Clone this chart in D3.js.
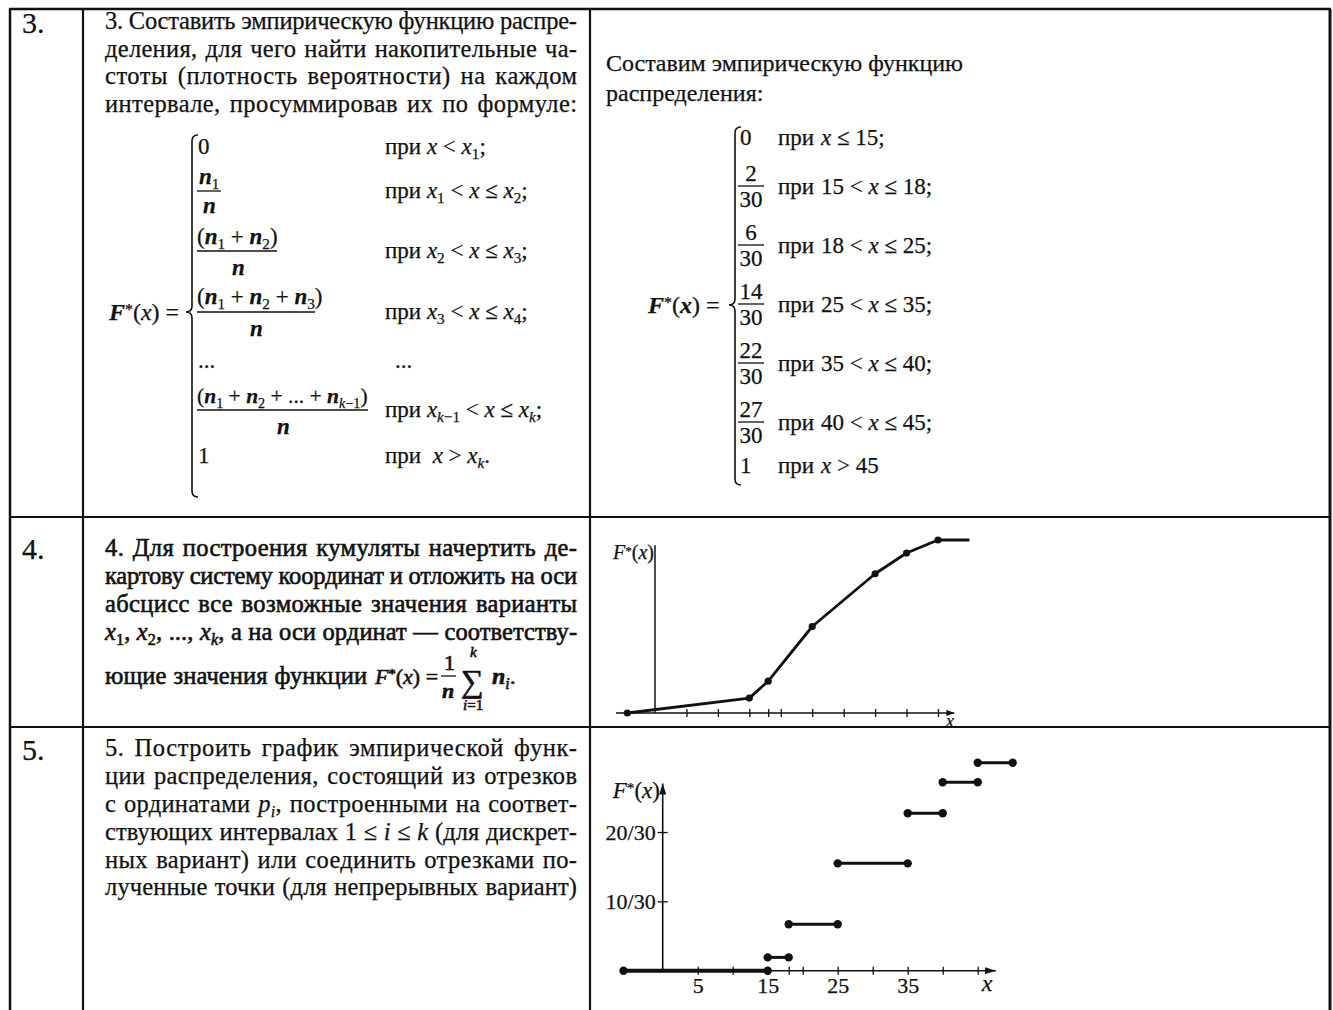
<!DOCTYPE html>
<html>
<head>
<meta charset="utf-8">
<script src="https://cdn.jsdelivr.net/npm/d3@7"></script>
<style>
  body { margin: 0; background: #fff; }
  svg text { font-family: "Liberation Serif", "Times New Roman", serif; fill: #111; white-space: pre; stroke: #111; stroke-width: 0.25; }
  .heavy text, text.heavy { stroke-width: 0.6; }
</style>
</head>
<body>
<script>
// ---- data ----
// cumulative polygon (row 4)
var cumX = [-4.4, 15, 18, 25, 35, 40, 45];
var cumF = [0, 0.086, 0.184, 0.5, 0.805, 0.925, 1];
var cumTailX = 50;
var cumTicks = [5, 10, 15, 18, 20, 25, 30, 35, 40, 45];

// empirical distribution function, steps (row 5)
var stepFrom = [-5.6, 15, 18, 25, 35, 40, 45];
var stepTo = [15, 18, 25, 35, 40, 45, 50];
var stepF = [0, 0.064, 0.223, 0.516, 0.757, 0.906, 1];
var stepTicks = [5, 10, 15, 18, 20, 25, 30, 35, 40, 45];
var stepTickLabels = [5, 15, 25, 35];
var stepYTicks = [1 / 3, 2 / 3];
var stepYTickLabels = ['10/30', '20/30'];

// right-hand formula of row 3
var fracNum = ['2', '6', '14', '22', '27'];
var fracDen = '30';
var intervalFrom = [15, 18, 25, 35, 40];
var intervalTo = [18, 25, 35, 40, 45];
var firstBound = 15;
var lastBound = 45;

// text
var rowNumbers = ['3.', '4.', '5.'];
var row3Text = [
  ['3. Составить эмпирическую функцию распре-'],
  ['деления, для чего найти накопительные ча-'],
  ['стоты (плотность вероятности) на каждом'],
  ['интервале, просуммировав их по формуле:']
];
var row4Text = [
  ['4. Для построения кумуляты начертить де-'],
  ['картову систему координат и отложить на оси'],
  ['абсцисс все возможные значения варианты'],
  ['i|x', '_|1', ', ', 'i|x', '_|2', ', ..., ', 'i|x', '~|k', ', а на оси ординат — соответству-']
];
var row5Text = [
  ['5. Построить график эмпирической функ-'],
  ['ции распределения, состоящий из отрезков'],
  ['с ординатами ', 'i|p', '~|i', ', построенными на соответ-'],
  ['ствующих интервалах 1 ≤ ', 'i|i', ' ≤ ', 'i|k', ' (для дискрет-'],
  ['ных вариант) или соединить отрезками по-'],
  ['лученные точки (для непрерывных вариант)']
];
var rightIntro = ['Составим эмпирическую функцию', 'распределения:'];

// ---- page ----
var width = 1333, height = 1010;
var svg = d3.select('body').append('svg')
    .attr('width', width)
    .attr('height', height);

var defs = svg.append('defs');
function arrowMarker(id, len, half) {
  defs.append('marker')
      .attr('id', id)
      .attr('viewBox', '0 0 ' + len + ' ' + (2 * half))
      .attr('refX', len).attr('refY', half)
      .attr('markerWidth', len).attr('markerHeight', 2 * half)
      .attr('markerUnits', 'userSpaceOnUse')
      .attr('orient', 'auto')
    .append('path')
      .attr('d', 'M0,0 L' + len + ',' + half + ' L0,' + (2 * half) + ' Z')
      .attr('fill', '#111');
}
arrowMarker('arrowS', 8, 3);
arrowMarker('arrowL', 11, 3.5);

// rich text: parts are plain strings or "code|text"
// i italic, b bold italic, _ subscript, ~ italic subscript, ^ superscript
function rich(parent, x, y, parts, size, opts) {
  opts = opts || {};
  var t = parent.append('text')
      .attr('x', x).attr('y', y)
      .attr('font-size', size);
  if (opts.anchor) t.attr('text-anchor', opts.anchor);
  var plain = '';
  var shift = 0;
  parts.forEach(function(p) {
    var code = p.charAt(1) === '|' ? p.charAt(0) : '';
    var s = code ? p.slice(2) : p;
    plain += s;
    var ts = t.append('tspan').text(s);
    var want = 0;
    if (code === '_' || code === '~') want = size * 0.22;
    if (code === '^') want = -size * 0.22;
    if (want !== shift) ts.attr('dy', want - shift);
    shift = want;
    if (want !== 0) ts.attr('font-size', size * 0.66);
    if (code === 'i' || code === '~') ts.attr('font-style', 'italic');
    if (code === 'b') ts.attr('font-style', 'italic').attr('font-weight', 'bold');
  });
  if (opts.width) justify(t, plain, opts.width);
  return t;
}

// justified book line: spare room goes partly between letters, partly into word gaps
function justify(t, plain, target) {
  var natural = t.node().getComputedTextLength();
  var gaps = plain.split(' ').length - 1;
  var extra = target - natural;
  if (extra < 0) {
    t.attr('letter-spacing', extra / (plain.length - 1));
    return;
  }
  var toWords = gaps ? extra * 0.4 : 0;
  t.attr('letter-spacing', (extra - toWords) / (plain.length - 1));
  if (gaps) t.attr('word-spacing', toWords / gaps);
}

function brace(x, top, mid, bottom, w) {
  return 'M' + (x + w) + ',' + top +
    ' Q' + x + ',' + top + ' ' + x + ',' + (top + w) +
    ' L' + x + ',' + (mid - w) +
    ' Q' + x + ',' + mid + ' ' + (x - w) + ',' + mid +
    ' Q' + x + ',' + mid + ' ' + x + ',' + (mid + w) +
    ' L' + x + ',' + (bottom - w) +
    ' Q' + x + ',' + bottom + ' ' + (x + w) + ',' + bottom;
}

function hline(parent, x1, x2, y, w) {
  parent.append('line')
      .attr('x1', x1).attr('x2', x2).attr('y1', y).attr('y2', y)
      .attr('stroke', '#111').attr('stroke-width', w || 1.3);
}

// ---- table grid ----
var tableTop = 9, rowLines = [517, 727];
var grid = svg.append('g').attr('stroke', '#111');
grid.append('line').attr('x1', 9).attr('x2', 1331).attr('y1', tableTop).attr('y2', tableTop).attr('stroke-width', 2.5);
[[10, 2.5], [83, 2.2], [590, 2.2], [1330, 3]].forEach(function(v) {
  grid.append('line').attr('x1', v[0]).attr('x2', v[0]).attr('y1', tableTop).attr('y2', height).attr('stroke-width', v[1]);
});
rowLines.forEach(function(y) {
  grid.append('line').attr('x1', 10).attr('x2', 1330).attr('y1', y).attr('y2', y).attr('stroke-width', 2.2);
});

// row numbers
var numBase = [33, 559, 760];
svg.append('g').selectAll('text')
    .data(rowNumbers)
  .enter().append('text')
    .attr('x', 22)
    .attr('y', function(d, i) { return numBase[i]; })
    .attr('font-size', 30)
    .text(function(d) { return d; });

// ---- left column paragraphs ----
var textX = 105, textW = 472, bodySize = 24.5;
function paragraph(lines, base, parent) {
  lines.forEach(function(parts, i) {
    rich(parent, textX, base[i], parts, bodySize, { width: textW });
  });
}
paragraph(row3Text, [29, 57, 84, 112], svg.append('g'));
var g4text = svg.append('g').attr('class', 'heavy');
paragraph(row4Text, [556, 584, 612, 640], g4text);
paragraph(row5Text, [756, 784, 812, 840, 868, 895], svg.append('g'));

// formula line of row 4
rich(g4text, textX, 684, ['ющие значения функции'], bodySize, { width: 262 });
rich(g4text, 375, 684, ['i|F', '^|*', '(', 'i|x', ') ='], 22);
rich(g4text, 444, 670, ['1'], 22);
hline(g4text, 441, 456, 676, 1.3);
rich(g4text, 442, 698, ['b|n'], 22);
rich(g4text, 461, 692, ['∑'], 32);
rich(g4text, 470, 657, ['i|k'], 15);
rich(g4text, 463, 710, ['i|i', '=1'], 15);
rich(g4text, 492, 684, ['b|n', '~|i', '.'], 24);

// ---- left formula of row 3 ----
var lf = svg.append('g');
var fs = 23;
rich(lf, 109, 320, ['b|F', '^|*', '(', 'i|x', ') ='], 24);
lf.append('path').attr('d', brace(192, 135, 312, 497, 6))
    .attr('fill', 'none').attr('stroke', '#111').attr('stroke-width', 1.6);

rich(lf, 198, 154, ['0'], fs);
rich(lf, 199, 184, ['b|n', '_|1'], fs);
hline(lf, 197, 221, 191);
rich(lf, 203, 213, ['b|n'], fs);
rich(lf, 197, 244, ['(', 'b|n', '_|1', ' + ', 'b|n', '_|2', ')'], fs);
hline(lf, 197, 277, 251);
rich(lf, 232, 275, ['b|n'], fs);
rich(lf, 197, 304, ['(', 'b|n', '_|1', ' + ', 'b|n', '_|2', ' + ', 'b|n', '_|3', ')'], fs);
hline(lf, 197, 315, 312);
rich(lf, 250, 336, ['b|n'], fs);
rich(lf, 198, 368, ['...'], fs);
rich(lf, 197, 403, ['(', 'b|n', '_|1', ' + ', 'b|n', '_|2', ' + ... + ', 'b|n', '~|k', '_|−1', ')'], 21.5);
hline(lf, 197, 368, 410);
rich(lf, 277, 434, ['b|n'], fs);
rich(lf, 198, 463, ['1'], fs);

var condX = 385;
rich(lf, condX, 154, ['при ', 'i|x', ' < ', 'i|x', '_|1', ';'], fs);
rich(lf, condX, 198, ['при ', 'i|x', '_|1', ' < ', 'i|x', ' ≤ ', 'i|x', '_|2', ';'], fs);
rich(lf, condX, 258, ['при ', 'i|x', '_|2', ' < ', 'i|x', ' ≤ ', 'i|x', '_|3', ';'], fs);
rich(lf, condX, 319, ['при ', 'i|x', '_|3', ' < ', 'i|x', ' ≤ ', 'i|x', '_|4', ';'], fs);
rich(lf, condX + 10, 368, ['...'], fs);
rich(lf, condX, 417, ['при ', 'i|x', '~|k', '_|−1', ' < ', 'i|x', ' ≤ ', 'i|x', '~|k', ';'], fs);
rich(lf, condX, 463, ['при  ', 'i|x', ' > ', 'i|x', '~|k', '.'], fs);

// ---- right formula of row 3 ----
var rf = svg.append('g');
rich(rf, 606, 71, [rightIntro[0]], 24, { width: 357 });
rich(rf, 606, 101, [rightIntro[1]], 24);
rich(rf, 648, 313, ['b|F', '^|*', '(', 'b|x', ') ='], 24);
rf.append('path').attr('d', brace(735, 127, 305, 485, 6))
    .attr('fill', 'none').attr('stroke', '#111').attr('stroke-width', 1.6);

var fracCx = 751, priX = 778, boundX = 821, rfs = 23;
rich(rf, 740, 145, ['0'], rfs);
rich(rf, priX, 145, ['при'], rfs);
rich(rf, boundX, 145, ['i|x', ' ≤ ' + firstBound + ';'], rfs);
fracNum.forEach(function(num, i) {
  var ly = 186 + i * 59;
  rich(rf, fracCx, ly - 5, [num], rfs, { anchor: 'middle' });
  hline(rf, 738, 764, ly, 1.3);
  rich(rf, fracCx, ly + 21, [fracDen], rfs, { anchor: 'middle' });
  rich(rf, priX, ly + 8, ['при'], rfs);
  rich(rf, boundX, ly + 8, [intervalFrom[i] + ' < ', 'i|x', ' ≤ ' + intervalTo[i] + ';'], rfs);
});
rich(rf, 740, 473, ['1'], rfs);
rich(rf, priX, 473, ['при'], rfs);
rich(rf, boundX, 473, ['i|x', ' > ' + lastBound], rfs);

// ---- row 4: cumulative polygon ----
var cx = d3.scaleLinear().domain([0, 45]).range([655, 938]);
var cy = d3.scaleLinear().domain([0, 1]).range([713, 540]);
var g4 = svg.append('g');

g4.append('line')
    .attr('x1', cx(-6.2)).attr('x2', cx(47.6))
    .attr('y1', cy(0)).attr('y2', cy(0))
    .attr('stroke', '#111').attr('stroke-width', 1.6)
    .attr('marker-end', 'url(#arrowS)');
var ax4 = g4.append('g')
    .attr('transform', 'translate(0,' + cy(0) + ')')
    .call(d3.axisBottom(cx).tickValues(cumTicks).tickSize(4).tickFormat(''));
ax4.select('.domain').remove();
ax4.selectAll('.tick line').attr('y1', -4).attr('y2', 4).attr('stroke', '#111').attr('stroke-width', 1.3);

g4.append('line')
    .attr('x1', cx(0)).attr('x2', cx(0))
    .attr('y1', cy(0)).attr('y2', cy(0.97))
    .attr('stroke', '#111').attr('stroke-width', 1.5);
rich(g4, 654, 559, ['i|F', '^|*', '(', 'i|x', ')'], 20, { anchor: 'end' });
rich(g4, 950, 727, ['i|x'], 18, { anchor: 'middle' });

var cumPts = cumX.map(function(x, i) { return [x, cumF[i]]; });
var polyLine = d3.line()
    .x(function(d) { return cx(d[0]); })
    .y(function(d) { return cy(d[1]); });
g4.append('path')
    .attr('d', polyLine(cumPts.concat([[cumTailX, cumF[cumF.length - 1]]])))
    .attr('fill', 'none').attr('stroke', '#111').attr('stroke-width', 2.8)
    .attr('stroke-linejoin', 'round');
g4.selectAll('circle')
    .data(cumPts)
  .enter().append('circle')
    .attr('cx', function(d) { return cx(d[0]); })
    .attr('cy', function(d) { return cy(d[1]); })
    .attr('r', 3.6)
    .attr('fill', '#111');

// ---- row 5: step function ----
var sx = d3.scaleLinear().domain([0, 45]).range([662.7, 977.7]);
var sy = d3.scaleLinear().domain([0, 1]).range([970.7, 762.7]);
var g5 = svg.append('g');

g5.append('line')
    .attr('x1', sx(-5.8)).attr('x2', sx(47.6))
    .attr('y1', sy(0)).attr('y2', sy(0))
    .attr('stroke', '#111').attr('stroke-width', 1.6)
    .attr('marker-end', 'url(#arrowL)');
var ax5 = g5.append('g')
    .attr('transform', 'translate(0,' + sy(0) + ')')
    .call(d3.axisBottom(sx).tickValues(stepTicks).tickSize(4)
      .tickFormat(function(d) { return stepTickLabels.indexOf(d) >= 0 ? d : ''; }));
ax5.select('.domain').remove();
ax5.selectAll('.tick line').attr('y1', -4).attr('y2', 4).attr('stroke', '#111').attr('stroke-width', 1.3);
ax5.selectAll('.tick text').attr('y', 22).attr('dy', 0).attr('font-size', 22);

g5.append('line')
    .attr('x1', sx(0)).attr('x2', sx(0))
    .attr('y1', sy(0)).attr('y2', sy(0.9))
    .attr('stroke', '#111').attr('stroke-width', 1.6)
    .attr('marker-end', 'url(#arrowL)');
var ay5 = g5.append('g')
    .attr('transform', 'translate(' + sx(0) + ',0)')
    .call(d3.axisLeft(sy).tickValues(stepYTicks).tickSize(5).tickPadding(2)
      .tickFormat(function(d, i) { return stepYTickLabels[i]; }));
ay5.select('.domain').remove();
ay5.selectAll('.tick line').attr('x1', 5).attr('stroke', '#111').attr('stroke-width', 1.3);
ay5.selectAll('.tick text').attr('font-size', 22).attr('dy', '0.34em');

rich(g5, 660, 798, ['i|F', '^|*', '(', 'i|x', ')'], 23, { anchor: 'end' });
rich(g5, 987, 991, ['i|x'], 24, { anchor: 'middle' });

var steps = stepFrom.map(function(x, i) { return { x0: x, x1: stepTo[i], f: stepF[i] }; });
g5.selectAll('line.step')
    .data(steps)
  .enter().append('line')
    .attr('class', 'step')
    .attr('x1', function(d) { return sx(d.x0); })
    .attr('x2', function(d) { return sx(d.x1); })
    .attr('y1', function(d) { return sy(d.f); })
    .attr('y2', function(d) { return sy(d.f); })
    .attr('stroke', '#111')
    .attr('stroke-width', function(d, i) { return i === 0 ? 4 : 3; });
var ends = [];
steps.forEach(function(d) { ends.push([d.x0, d.f], [d.x1, d.f]); });
g5.selectAll('circle')
    .data(ends)
  .enter().append('circle')
    .attr('cx', function(d) { return sx(d[0]); })
    .attr('cy', function(d) { return sy(d[1]); })
    .attr('r', 4.2)
    .attr('fill', '#111');
</script>
</body>
</html>
